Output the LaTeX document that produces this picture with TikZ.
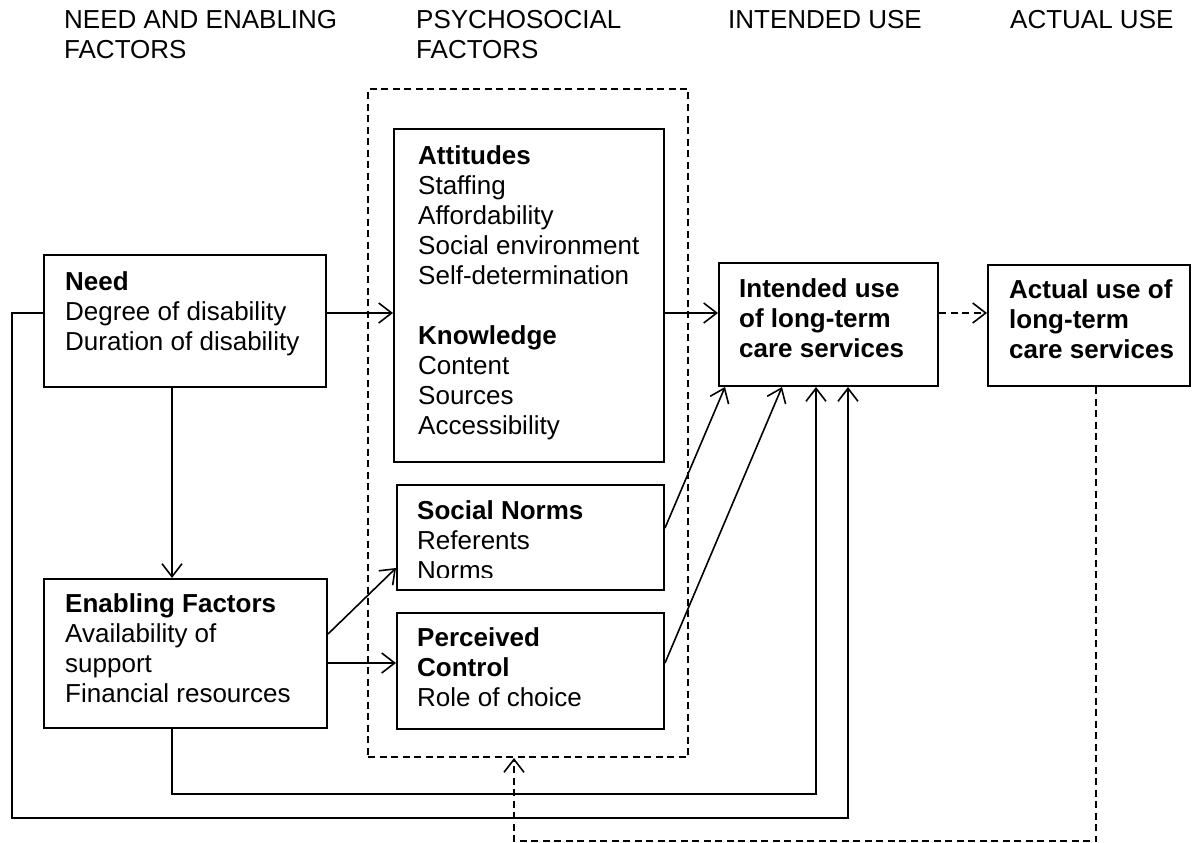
\documentclass[tikz,border=0pt]{standalone}
\usepackage{fontspec}
\setmainfont{Liberation Sans}
\usetikzlibrary{arrows.meta}
% left-aligned stack of lines whose baseline is the first line
\newcommand{\lns}[1]{\begin{tabular}[t]{@{}l@{}}#1\end{tabular}}

\begin{document}
\begin{tikzpicture}[x=1pt,y=-1pt,
  font=\fontsize{26}{30}\selectfont,
  box/.style={draw, line width=2pt, anchor=north west, inner sep=0pt},
  txt/.style={anchor=base west, inner sep=0pt},
  link/.style={line width=1.6pt},
  arr/.style={link, -{Straight Barb[length=13pt,width=20pt,line width=1.6pt]}},
  dsh/.style={line width=2pt, dash pattern=on 7pt off 4.5pt},
]
\useasboundingbox (0,0) rectangle (1199,843);

% column headings
\node[txt] (hneed) at (64,29)   {\lns{NEED AND ENABLING\\FACTORS}};
\node[txt] (hpsy)  at (416,29)  {\lns{PSYCHOSOCIAL\\FACTORS}};
\node[txt] (hint)  at (728,29)  {INTENDED USE};
\node[txt] (hact)  at (1010,29) {ACTUAL USE};

% psychosocial group
\node[box, dsh, minimum width=320pt, minimum height=668pt] (psy) at (367,88) {};

% boxes
\node[box, minimum width=282pt, minimum height=132pt] (need) at (43,254) {};
\node[box, minimum width=283pt, minimum height=149pt] (en)   at (43,578) {};
\node[box, minimum width=270pt, minimum height=333pt] (att)  at (393,128) {};
\node[box, minimum width=267pt, minimum height=105pt] (sn)   at (396,484) {};
\node[box, minimum width=267pt, minimum height=116pt] (pc)   at (396,612) {};
\node[box, minimum width=219pt, minimum height=123pt] (int)  at (718,262) {};
\node[box, minimum width=202pt, minimum height=121pt] (act)  at (987,264) {};

% box texts
\node[txt] (needtxt) at (65,290) {\lns{\textbf{Need}\\Degree of disability\\Duration of disability}};
\node[txt] (entxt) at (65,612) {\lns{\textbf{Enabling Factors}\\Availability of\\support\\Financial resources}};
\node[txt] (atttxt) at (418,164) {\lns{\textbf{Attitudes}\\Staffing\\Affordability\\Social environment\\Self-determination\\[30pt]\textbf{Knowledge}\\Content\\Sources\\Accessibility}};
\begin{scope}
  \clip (396,484) rectangle (663,577);
  \node[txt] (sntxt) at (417,519) {\lns{\textbf{Social Norms}\\Referents\\Norms}};
\end{scope}
\node[txt] (pctxt) at (417,646) {\lns{\textbf{Perceived}\\\textbf{Control}\\Role of choice}};
\node[txt] (inttxt) at (739,297) {\lns{\textbf{Intended use}\\\textbf{of long-term}\\\textbf{care services}}};
\node[txt] (acttxt) at (1009,298) {\lns{\textbf{Actual use of}\\\textbf{long-term}\\\textbf{care services}}};

% reference rows and columns for the connectors
\coordinate (rowA) at (0,313);
\coordinate (rowB) at (0,634);
\coordinate (rowC) at (0,568);
\coordinate (rowD) at (0,663);
\coordinate (rowE) at (0,528);
\coordinate (colA) at (172,0);
\coordinate (colB) at (725,0);
\coordinate (colC) at (782,0);
\coordinate (colD) at (816,0);
\coordinate (colE) at (848,0);
\coordinate (colF) at (1096,0);
\coordinate (colG) at (514,0);

% main flow
\draw[arr] (need.east |- rowA) -- (att.west |- rowA);
\draw[arr] (att.east |- rowA) -- (int.west |- rowA);
\draw[arr, dsh] (int.east |- rowA) -- (act.west |- rowA);
\draw[arr] (need.south -| colA) -- (en.north -| colA);
\draw[arr] (en.east |- rowB) -- (sn.west |- rowC);
\draw[arr] (en.east |- rowD) -- (pc.west |- rowD);
\draw[arr] (sn.east |- rowE) -- (int.south -| colB);
\draw[arr] (pc.east |- rowD) -- (int.south -| colC);

% direct paths from need and enabling factors to intended use
\draw[arr] (en.south -| colA) -- ++(0,65) -| (int.south -| colD);
\draw[arr] (need.west |- rowA) -- ++(-31,0) -- ++(0,505) -| (int.south -| colE);

% feedback from actual use
\draw[arr, dsh] (act.south -| colF) -- ++(0,454) -| (psy.south -| colG);
\end{tikzpicture}
\end{document}
